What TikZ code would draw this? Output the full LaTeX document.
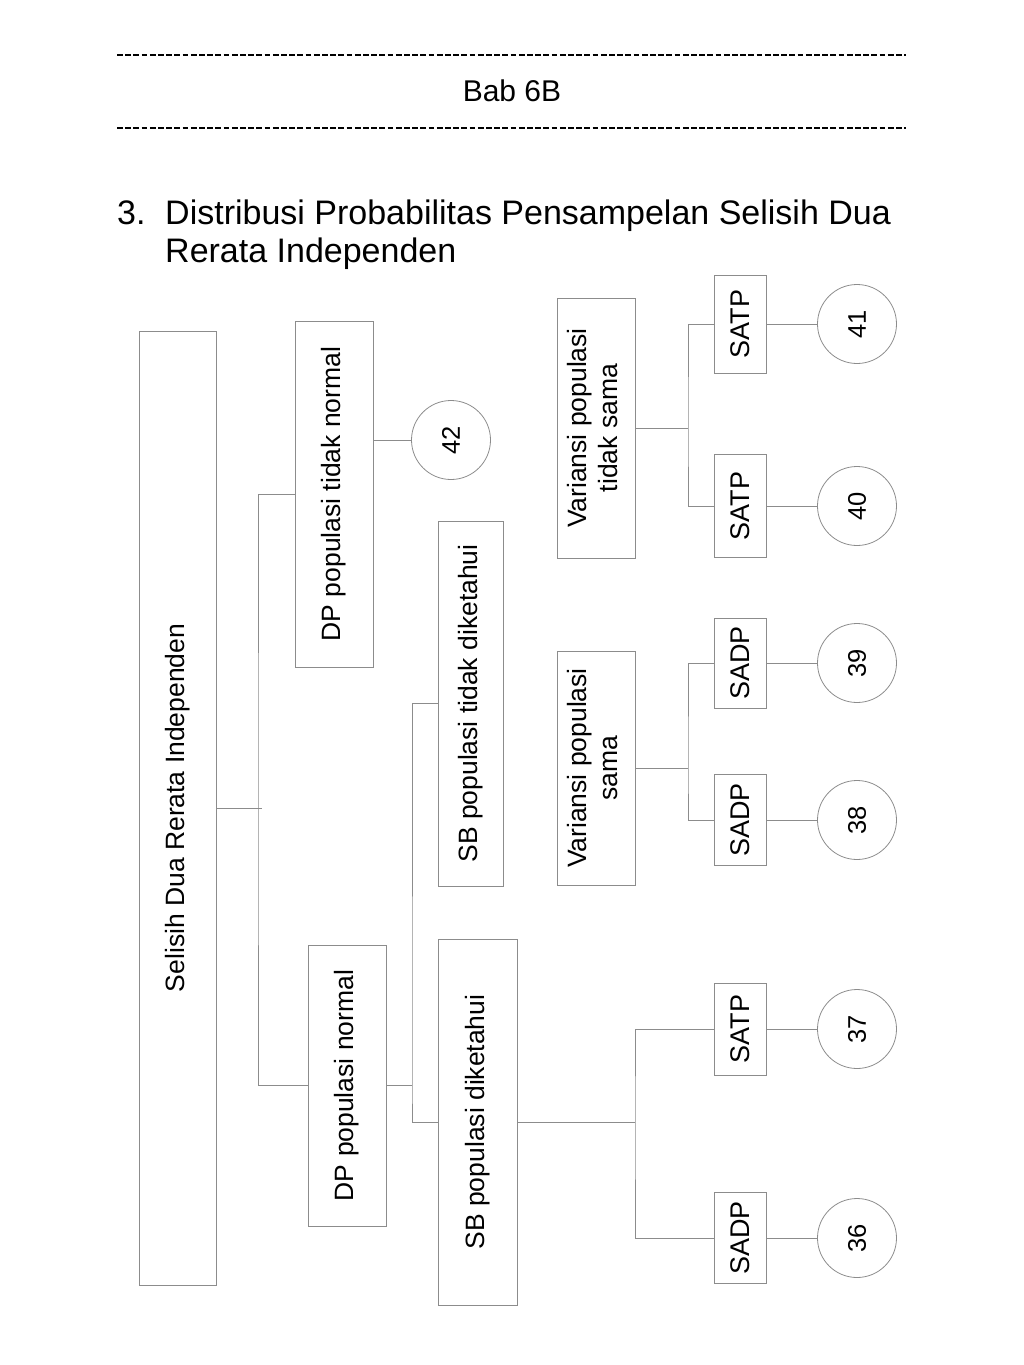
\documentclass[tikz,border=0pt]{standalone}
\usepackage{fontspec}
\setmainfont{Liberation Sans}
\usepackage{graphicx}
\usepackage{tikz}
\definecolor{linegray}{HTML}{8C8C8C}

\begin{document}
\begin{tikzpicture}[
        x=1pt, y=-1pt,
        box/.style={draw=linegray, line width=1pt, inner sep=0pt, align=center, font=\fontsize{26.5}{31}\selectfont},
        smallbox/.style={box, minimum width=52pt, font=\fontsize{27}{31}\selectfont},
        num/.style={circle, draw=linegray, line width=0.8pt, minimum size=79pt, inner sep=0pt, font=\fontsize{25.5}{29}\selectfont},
        link/.style={draw=linegray, line width=1pt},
        rule/.style={line width=2.2pt, dash pattern=on 5.8pt off 2.4pt}
    ]
        \useasboundingbox (0,0) rectangle (1024,1365);

        % header
        \draw[rule] (117,55) -- (906,55);
        \node[font=\fontsize{30}{34}\selectfont] (chapter) at (512,91) {Bab 6B};
        \draw[rule] (117,128) -- (906,128);
        \node[anchor=base west, inner sep=0pt, font=\fontsize{34}{39}\selectfont] (item) at (117,224) {3.};
        \node[anchor=base west, inner sep=0pt, font=\fontsize{34}{39}\selectfont] (title) at (165,224) {Distribusi Probabilitas Pensampelan Selisih Dua};
        \node[anchor=base west, inner sep=0pt, font=\fontsize{34}{39}\selectfont] (titlecont) at (165,262) {Rerata Independen};

        % boxes
        \node[box, minimum width=77pt, minimum height=954pt] (root) at (177.5,808) {\rotatebox{90}{Selisih Dua Rerata Independen}};
        \node[box, minimum width=78pt, minimum height=346pt] (dptn) at (334,494) {\rotatebox{90}{DP populasi tidak normal}};
        \node[box, minimum width=78pt, minimum height=281pt] (dpn) at (347,1085.5) {\rotatebox{90}{DP populasi normal}};
        \node[box, minimum width=65pt, minimum height=365pt] (sbtd) at (470.5,703.5) {\rotatebox{90}{SB populasi tidak diketahui}};
        \node[box, minimum width=79pt, minimum height=366pt] (sbd) at (477.5,1122) {\rotatebox{90}{SB populasi diketahui}};
        \node[box, minimum width=78pt, minimum height=260pt] (vts) at (596,428) {\rotatebox{90}{\begin{tabular}{@{}c@{}}Variansi populasi\\tidak sama\end{tabular}}};
        \node[box, minimum width=78pt, minimum height=234pt] (vs) at (596,768) {\rotatebox{90}{\begin{tabular}{@{}c@{}}Variansi populasi\\sama\end{tabular}}};

        \node[smallbox, minimum height=98pt] (satpA) at (740,324) {\rotatebox{90}{SATP}};
        \node[smallbox, minimum height=103pt] (satpB) at (740,506) {\rotatebox{90}{SATP}};
        \node[smallbox, minimum height=90pt] (sadpA) at (740,663) {\rotatebox{90}{SADP}};
        \node[smallbox, minimum height=91pt] (sadpB) at (740,820) {\rotatebox{90}{SADP}};
        \node[smallbox, minimum height=92pt] (satpC) at (740,1029) {\rotatebox{90}{SATP}};
        \node[smallbox, minimum height=91pt] (sadpC) at (740,1238) {\rotatebox{90}{SADP}};

        % numbered circles
        \node[num] (n42) at (451,440) {\rotatebox{90}{42}};
        \node[num] (n41) at (857,324) {\rotatebox{90}{41}};
        \node[num] (n40) at (857,506) {\rotatebox{90}{40}};
        \node[num] (n39) at (857,663) {\rotatebox{90}{39}};
        \node[num] (n38) at (857,820) {\rotatebox{90}{38}};
        \node[num] (n37) at (857,1029) {\rotatebox{90}{37}};
        \node[num] (n36) at (857,1238) {\rotatebox{90}{36}};

        % junctions
        \coordinate (jroot) at (258,808);
        \coordinate (jdpn) at (412,1085.5);
        \coordinate (jsbd) at (635,1122);
        \coordinate (jvts) at (688,428);
        \coordinate (jvs) at (688,768);

        % connectors
        \draw[link] (root.east) -- ([xshift=4pt]jroot);
        \draw[link] (dptn.west) -| (jroot) |- (dpn.west);
        \draw[link] (dptn.east |- n42) -- (n42);
        \draw[link] (dpn.east) -- (jdpn);
        \draw[link] (sbtd.west) -| (jdpn) |- (sbd.west);
        \draw[link] (sbd.east) -- (jsbd);
        \draw[link] (satpC.west) -| (jsbd) |- (sadpC.west);
        \draw[link] (vts.east) -- (jvts);
        \draw[link] (satpA.west) -| (jvts) |- (satpB.west);
        \draw[link] (vs.east) -- (jvs);
        \draw[link] (sadpA.west) -| (jvs) |- (sadpB.west);
        \foreach \from/\to in {satpA/n41, satpB/n40, sadpA/n39, sadpB/n38, satpC/n37, sadpC/n36}
            \draw[link] (\from) -- (\to);
    \end{tikzpicture}
\end{document}
